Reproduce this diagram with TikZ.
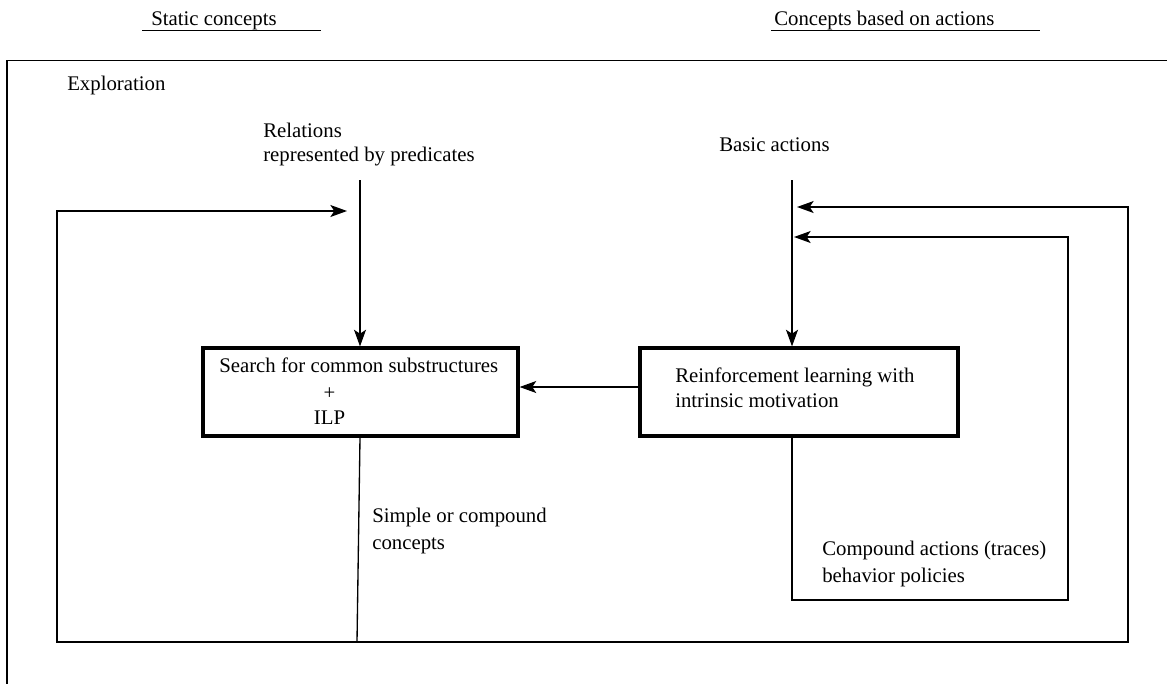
\documentclass[tikz,border=0pt]{standalone}
\usepackage{fontspec}
\setmainfont{Liberation Serif}
\usetikzlibrary{arrows.meta}
\begin{document}
\begin{tikzpicture}[x=0.75pt,y=-0.75pt,
  txt/.style={anchor=base west,inner sep=0pt,font=\fontsize{15.6}{18}\selectfont},
  ctxt/.style={anchor=base,inner sep=0pt,font=\fontsize{15.6}{18}\selectfont},
  thin/.style={line width=1pt},
  boxstyle/.style={draw,line width=2.4pt,inner sep=0pt},
  arr/.style={thin,-{Stealth[length=12.5pt,width=9pt,inset=3pt]}}]
\useasboundingbox (0,0) rectangle (1167,683);
\clip (0,0) rectangle (1167,683);
% headers
\node[txt] (hstatic) at (151,25) {Static concepts};
\draw[thin] (142,30.7) -- (321,30.7);
\node[txt] (hactions) at (774,25) {Concepts based on actions};
\draw[thin] (771,30.7) -- (1040,30.7);
% frame
\draw[thin] (7,700) -- (7,60.5) -- (1180,60.5);
\node[txt] (explore) at (67,90) {Exploration};
% inputs
\node[txt] (rel1) at (263,137) {Relations};
\node[txt] (rel2) at (263,161) {represented by predicates};
\node[txt] (basic) at (719,151) {Basic actions};
% boxes
\node[boxstyle,minimum width=236.25pt,minimum height=66pt] (lbox) at (360.5,392) {};
\node[txt] (l1) at (219,372) {Search for common substructures};
\node[ctxt] (l2) at (329.5,399) {+};
\node[ctxt] (l3) at (329.5,424) {ILP};
\node[boxstyle,minimum width=238.5pt,minimum height=66pt] (rbox) at (799,392) {};
\node[txt] (r1) at (675,382) {Reinforcement learning with};
\node[txt] (r2) at (675,407) {intrinsic motivation};
% output labels
\node[txt] (s1) at (372,522) {Simple or compound};
\node[txt] (s2) at (372,549) {concepts};
\node[txt] (c1) at (822,555) {Compound actions (traces)};
\node[txt] (c2) at (822,582) {behavior policies};
% coordinates
\coordinate (relTop) at (360,180);
\coordinate (basicTop) at (792,180);
\coordinate (join) at (357,642);
\coordinate (leftTip) at (347,211);
\coordinate (outerTip) at (797,207);
\coordinate (innerTip) at (794,237);
\coordinate (midArr) at (0,387);
% connectors
\draw[arr] (relTop) -- (relTop |- lbox.north);
\draw[arr] (basicTop) -- (basicTop |- rbox.north);
\draw[arr] (rbox.west |- midArr) -- (lbox.east |- midArr);
\draw[thin] (lbox.south -| relTop) -- (join);
\draw[arr] (join) -- (57,642) -- (57,211) -- (leftTip);
\draw[arr] (join) -- (1128,642) -- (1128,207) -- (outerTip);
\draw[arr] (rbox.south -| basicTop) -- (792,600) -- (1068,600) -- (1068,237) -- (innerTip);
\end{tikzpicture}
\end{document}
